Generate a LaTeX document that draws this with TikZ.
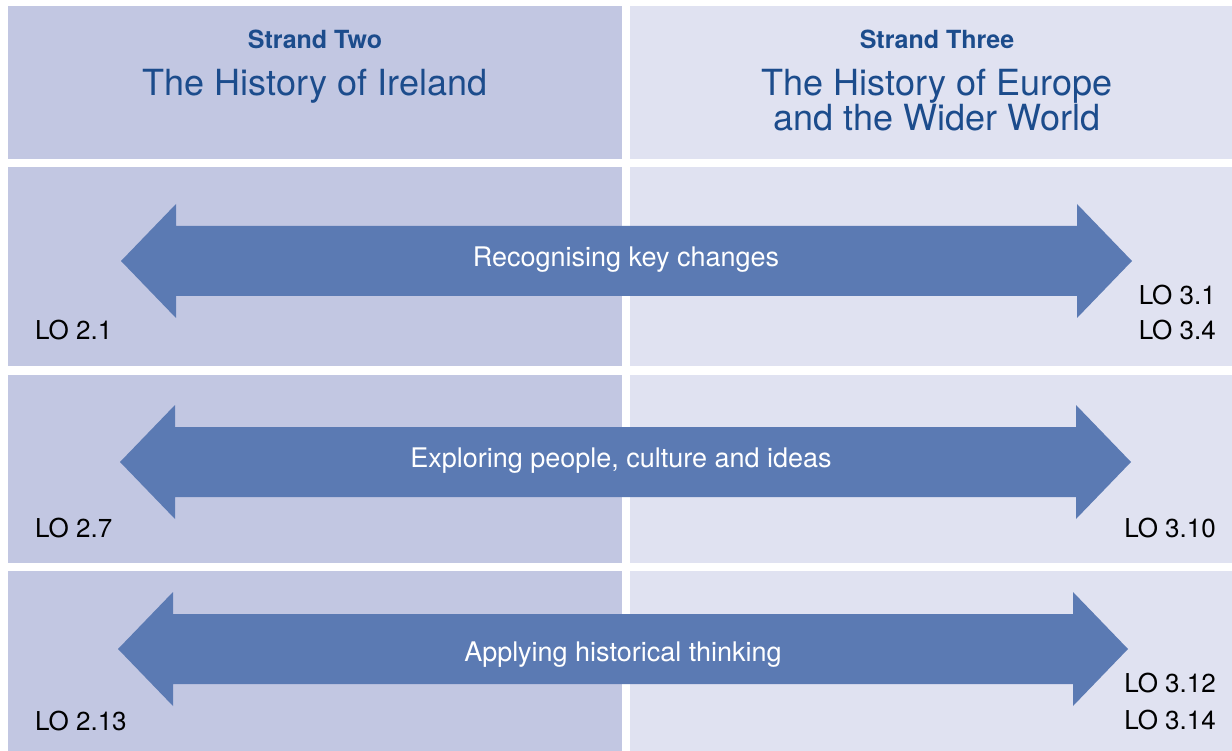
\documentclass[tikz,border=0pt]{standalone}
\usepackage{fontspec}
\setmainfont{TeX Gyre Heros}

\definecolor{irelandbg}{HTML}{C2C7E2}
\definecolor{europebg}{HTML}{E0E2F1}
\definecolor{bandblue}{HTML}{5B7AB3}
\definecolor{headblue}{HTML}{1C4C8C}

\tikzset{
  strand/.style={anchor=base, text=headblue, inner sep=0pt, font=\bfseries\fontsize{25}{29}\selectfont},
  title/.style={anchor=base, text=headblue, inner sep=0pt, align=center, font=\fontsize{36}{35}\selectfont},
  bandlabel/.style={anchor=base, text=white, inner sep=0pt, font=\fontsize{27}{30}\selectfont},
  lo/.style={inner sep=0pt, font=\fontsize{26}{30}\selectfont},
}

\begin{document}
\begin{tikzpicture}[x=1pt,y=-1pt]
        \useasboundingbox (0,0) rectangle (1232,751);
        \fill[white] (0,0) rectangle (1232,751);

        % Background panels of the two strands
        \foreach \top/\bot in {6/159, 167/366, 375/563, 571/751} {
            \fill[irelandbg] (8,\top) rectangle (622,\bot);
            \fill[europebg] (630,\top) rectangle (1232,\bot);
        }

        % Double arrows across both strands
        \foreach \l/\r/\c in {121/1132/261, 120/1131/462, 118/1128/649} {
            \fill[bandblue] (\l,\c) -- (\l+55,\c-57) -- (\l+55,\c-35) -- (\r-55,\c-35)
                -- (\r-55,\c-57) -- (\r,\c) -- (\r-55,\c+57) -- (\r-55,\c+35)
                -- (\l+55,\c+35) -- (\l+55,\c+57) -- cycle;
        }

        % Headings
        \node[strand] (two) at (315,49) {Strand Two};
        \node[title] (ireland) at (315,96) {The History of Ireland};
        \node[strand] (three) at (937,49) {Strand Three};
        \node[title] (europe) at (937,131) {The History of Europe\\and the Wider World};

        % Arrow labels
        \node[bandlabel] (changes) at (626,267) {Recognising key changes};
        \node[bandlabel] (people) at (621,467) {Exploring people, culture and ideas};
        \node[bandlabel] (thinking) at (623,661) {Applying historical thinking};

        % Learning outcomes
        \node[lo, anchor=base west] (lo21) at (35,340) {LO 2.1};
        \node[lo, anchor=base west] (lo27) at (35,537) {LO 2.7};
        \node[lo, anchor=base west] (lo213) at (35,730) {LO 2.13};
        \node[lo, anchor=base east] (lo31) at (1216,305) {LO 3.1};
        \node[lo, anchor=base east] (lo34) at (1216,340) {LO 3.4};
        \node[lo, anchor=base east] (lo310) at (1216,537) {LO 3.10};
        \node[lo, anchor=base east] (lo312) at (1216,692) {LO 3.12};
        \node[lo, anchor=base east] (lo314) at (1216,729) {LO 3.14};
\end{tikzpicture}
\end{document}
